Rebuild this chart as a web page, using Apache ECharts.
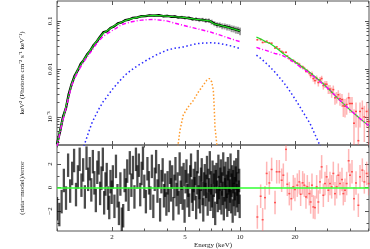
<!DOCTYPE html>
<html><head><meta charset="utf-8">
<script src="https://cdn.jsdelivr.net/npm/echarts@6/dist/echarts.min.js"></script>
<style>html,body{margin:0;padding:0;background:#fff}#c{width:370px;height:249px}</style>
</head><body><div id="c"></div><script>
// ---------- axis ticks ----------
const X_RANGE = [1, 50.7];
const Y_TOP_RANGE = [2.6e-4, 0.26];
const Y_RES_RANGE = [-3.7, 3.62];
const xMajorTicks = [2, 5, 10, 20];
const xMinorTicks = [1, 3, 4, 6, 7, 8, 9, 30, 40, 50];
const yTopMajorTicks = [0.001, 0.01, 0.1];
const yTopMinorTicks = [3e-4,4e-4,5e-4,6e-4,7e-4,8e-4,9e-4,0.002,0.003,0.004,0.005,0.006,0.007,0.008,0.009,0.02,0.03,0.04,0.05,0.06,0.07,0.08,0.09,0.2];
const yResMajorTicks = [-2, 0, 2];
const yResMinorTicks = [-3, -1, 1, 3];
const zeroLevel = [0];

// ---------- model curves (segment 1: 1-10 keV) ----------
const modelE1 = [1.0,1.03,1.06,1.1,1.15,1.2,1.25,1.31,1.4,1.48,1.55,1.61,1.7,1.79,1.85,1.92,1.99,2.1,2.26,2.4,2.56,2.75,2.9,3.1,3.43,3.97,4.4,4.9,5.3,5.8,6.3,6.86,7.0,7.15,7.5,8.11,9.0,10.0];
const totalModel1 = [2.6e-4,4.5e-4,7.4e-4,1.25e-3,2.5e-3,4.8e-3,7.0e-3,0.0102,0.0155,0.021,0.027,0.0338,0.044,0.056,0.060,0.066,0.073,0.083,0.095,0.104,0.112,0.119,0.124,0.128,0.130,0.126,0.122,0.118,0.113,0.108,0.104,0.100,0.096,0.088,0.084,0.078,0.070,0.062];
const contModel1 = [2.4e-4,4.1e-4,6.8e-4,1.15e-3,2.3e-3,4.4e-3,6.4e-3,9.2e-3,0.014,0.019,0.024,0.030,0.039,0.048,0.052,0.057,0.062,0.070,0.084,0.090,0.096,0.101,0.104,0.106,0.107,0.100,0.090,0.081,0.075,0.069,0.064,0.059,0.058,0.056,0.053,0.048,0.042,0.037];
const bbModel1 = [2e-6,4e-6,7e-6,1.4e-5,2.8e-5,5e-5,8e-5,1.3e-4,2.4e-4,4.5e-4,7.4e-4,1.0e-3,1.5e-3,2.1e-3,2.45e-3,3.0e-3,3.6e-3,4.6e-3,6.3e-3,7.9e-3,9.6e-3,0.0116,0.0131,0.0153,0.0190,0.0245,0.027,0.0287,0.031,0.0335,0.0345,0.035,0.035,0.0348,0.0343,0.0327,0.030,0.0266];
// ---------- model curves (segment 2: 12-51 keV) ----------
const modelE2 = [12.3,13,14,14.6,15.5,16.5,17.2,18.5,20.4,22,24.1,26,28.5,31,33.8,37,39.9,43,45.3,48,51];
const totalModel2 = [0.046,0.042,0.036,0.0338,0.029,0.024,0.021,0.0172,0.0133,0.0108,8.4e-3,6.6e-3,4.9e-3,3.6e-3,2.55e-3,1.85e-3,1.4e-3,1.1e-3,9.2e-4,7.7e-4,6.4e-4];
const contModel2 = [0.028,0.026,0.024,0.0226,0.021,0.0199,0.0188,0.0163,0.0125,0.0102,8.1e-3,6.4e-3,4.8e-3,3.6e-3,2.55e-3,1.85e-3,1.4e-3,1.1e-3,9.2e-4,7.7e-4,6.4e-4];
const bbModel2 = [0.0193,0.0165,0.0128,0.011,8.6e-3,6.5e-3,5.4e-3,3.7e-3,2.1e-3,1.3e-3,7.4e-4,3.9e-4,1.8e-4,6e-5,2e-5,5e-6,2e-6,1e-6,1e-6,1e-6,1e-6];
// ---------- iron line ----------
const lineE = [4.5,4.6,4.7,4.9,5.2,5.56,5.92,6.3,6.58,6.8,7.0,7.15,7.23,7.3,7.46,7.6];
const lineModel = [1.2e-4,2.8e-4,5.3e-4,1.1e-3,1.6e-3,2.2e-3,3.3e-3,4.6e-3,5.8e-3,6.3e-3,5.4e-3,3.6e-3,1.6e-3,6.2e-4,2.8e-4,1e-4];

// ---------- black data (top) ----------
const blackE = [1.00,1.04,1.08,1.12,1.16,1.20,1.25,1.30,1.35,1.40,1.46,1.52,1.58,1.65,1.72,1.80,1.88,1.96,2.05,2.15,2.25,2.36,2.48,2.60,2.75,2.90,3.05,3.2,3.4,3.6,3.8,4.0,4.2,4.4,4.6,4.8,5.0,5.25,5.5,5.75,6.0,6.25,6.5,6.75,7.0,7.25,7.5,7.75,8.0,8.25,8.5,8.75,9.0,9.25,9.5,9.75,10.0];
const blackF = [2.7e-4,5.1e-4,1.02e-3,1.55e-3,3.0e-3,4.7e-3,7.2e-3,9.4e-3,0.0128,0.0152,0.0199,0.0240,0.0306,0.0372,0.0468,0.0585,0.0610,0.0712,0.0770,0.0885,0.0930,0.1035,0.1070,0.1155,0.1180,0.1255,0.1260,0.1305,0.1290,0.1310,0.1255,0.1270,0.1225,0.1235,0.1185,0.1195,0.1160,0.1150,0.1095,0.1090,0.1050,0.1055,0.1020,0.1015,0.0950,0.0880,0.0830,0.0820,0.0780,0.0775,0.0745,0.0735,0.0695,0.0685,0.0655,0.0645,0.0615];
const blackRelErr = [0.12,0.10,0.08,0.07,0.06,0.05,0.05,0.04,0.04,0.04,0.04,0.04,0.04,0.04,0.04,0.04,0.04,0.04,0.04,0.04,0.04,0.04,0.04,0.04,0.04,0.04,0.04,0.04,0.05,0.05,0.05,0.06,0.06,0.06,0.07,0.07,0.08,0.08,0.09,0.09,0.10,0.10,0.11,0.11,0.12,0.12,0.13,0.13,0.14,0.14,0.15,0.15,0.16,0.16,0.17,0.17,0.18];

// ---------- red data (top + residuals) ----------
const redE = [12.44,12.97,13.30,13.70,13.99,14.47,14.89,15.54,15.87,16.40,16.89,17.25,17.84,18.14,18.60,19.08,19.56,19.97,20.57,21.10,21.45,22.00,22.46,22.94,23.33,23.92,24.33,24.74,25.16,25.69,26.24,26.80,27.36,27.94,28.54,29.14,29.76,30.39,31.03,31.69,32.36,33.04,33.74,34.46,35.19,36.09,36.70,37.48,38.28,39.25,39.92,40.93,41.98,43.05,44.34,45.28,46.62,47.81,49.23,50.48];
const redF = [0.0405,0.0408,0.0356,0.0367,0.0377,0.0348,0.0343,0.0272,0.0288,0.0261,0.0231,0.0220,0.0222,0.0185,0.0165,0.0150,0.0150,0.0140,0.0132,0.0125,0.0111,0.0111,0.0103,0.0090,0.0092,0.0082,0.0073,0.0079,0.0063,0.0057,0.0064,0.0052,0.0059,0.0063,0.0045,0.0048,0.0048,0.0038,0.0038,0.0033,0.0037,0.0025,0.0026,0.0029,0.0024,0.0023,0.0017,0.00167,0.00181,0.0025,0.0019,0.0019,0.00074,0.0013,0.00032,0.0013,0.0015,0.0010,0.0013,0.0008];
const redErr = [0.0018,0.0017,0.0016,0.0015,0.0014,0.0014,0.0013,0.0012,0.0013,0.0012,0.0011,0.0011,0.0010,0.0009,0.0010,0.0010,0.0009,0.0009,0.0008,0.0009,0.0009,0.0008,0.0008,0.0008,0.0008,0.0008,0.0009,0.0009,0.0009,0.0009,0.0009,0.0009,0.0009,0.0009,0.0008,0.0008,0.0008,0.0008,0.0008,0.0008,0.0008,0.0007,0.0007,0.0007,0.0007,0.0007,0.0007,0.0007,0.0007,0.0007,0.0007,0.0007,0.0007,0.0007,0.0007,0.0007,0.0007,0.0007,0.0007,0.0007];
const redResid = [-2.51,-0.74,-2.74,-0.86,1.20,0.39,1.54,-1.28,1.34,1.34,0.62,1.05,3.25,0.28,-0.52,-0.95,0.06,-0.17,0.20,0.48,-0.57,0.40,0.20,-0.80,0.06,-0.52,-1.23,0.20,-1.65,-1.71,0.06,-1.23,0.48,1.76,-0.66,0.34,0.91,-0.23,0.34,0.06,1.20,-0.52,0.06,1.05,0.34,0.68,-0.52,-0.23,0.34,2.28,1.05,1.34,-0.95,0.39,-1.51,0.91,1.48,0.48,1.20,0.34];

// ---------- black residuals ----------
const blackResE = [1.00,1.03,1.06,1.09,1.12,1.15,1.18,1.21,1.24,1.27,1.30,1.33,1.36,1.39,1.42,1.45,1.48,1.51,1.54,1.57,1.60,1.63,1.66,1.69,1.72,1.75,1.78,1.81,1.84,1.87,1.90,1.93,1.96,1.99,
2.02,2.06,2.10,2.14,2.18,2.22,2.26,2.30,2.34,2.38,2.42,2.46,2.50,2.55,2.60,2.65,2.70,2.75,2.80,2.85,2.90,2.95,3.00,3.06,3.12,3.18,3.24,3.30,3.36,3.42,3.48,3.54,3.60,3.66,3.72,3.78,3.84,3.90,3.96,
4.02,4.08,4.14,4.20,4.26,4.32,4.38,4.44,4.50,4.56,4.62,4.68,4.74,4.80,4.86,4.92,4.98,5.04,5.10,5.16,5.22,5.28,5.34,5.40,5.46,5.52,5.58,5.64,5.70,5.76,5.82,5.88,5.94,6.00,6.06,6.12,6.18,6.24,6.30,6.36,6.42,6.48,6.54,6.60,6.66,6.72,6.78,6.84,6.90,6.96,7.02,7.08,7.14,7.20,7.26,7.32,7.38,7.44,7.50,7.56,7.62,7.68,7.74,7.80,7.86,7.92,7.98,8.04,8.10,8.16,8.22,8.28,8.34,8.40,8.46,8.52,8.58,8.64,8.70,8.76,8.82,8.88,8.94,9.00,9.06,9.12,9.18,9.24,9.30,9.36,9.42,9.48,9.54,9.60,9.66,9.72,9.78,9.84,9.90,9.96];
const blackResid = [-1.8,-2.3,-1.2,0.6,-0.9,1.9,-0.3,1.2,2.3,-0.6,0.9,2.4,0.2,1.5,-0.8,2.5,0.7,1.6,-0.2,2.2,0.4,-1.1,1.3,2.1,-0.5,0.8,2.4,-1.3,0.3,1.1,-0.9,-1.7,0.5,-0.4,
0.9,-1.6,1.8,-0.7,-2.2,0.3,-2.7,-2.4,0.6,-0.2,1.4,-1.0,2.1,0.2,1.7,-0.8,2.4,0.9,1.9,-0.6,1.2,2.5,0.1,-1.2,1.6,0.4,-0.9,1.8,-1.6,0.7,2.2,-0.3,1.0,-1.9,0.5,1.5,-0.7,0.2,-1.4,
0.4,-1.1,1.3,-0.2,0.9,-1.8,0.1,1.6,-0.6,0.3,-1.3,2.0,-0.4,0.8,-0.9,1.1,-2.0,0.5,1.4,-0.7,
0.2,-1.5,0.9,1.9,-0.3,-1.0,0.6,-0.1,1.2,-1.7,0.4,2.2,-0.8,0.0,-1.2,0.7,1.5,-0.5,-1.9,0.3,
1.0,-0.6,0.1,1.7,-1.4,0.6,-0.2,2.1,-1.0,0.4,-0.7,1.3,-1.6,0.2,0.9,-2.2,0.5,1.1,-0.4,-1.1,
1.8,0.0,-0.9,0.7,1.4,-1.3,0.3,-0.5,2.0,-1.8,0.8,-0.2,1.2,-0.8,0.1,-1.5,1.6,0.4,-1.0,0.6,
-0.3,1.9,-1.2,0.2,0.9,-2.0,0.5,-0.6,1.3,-0.1,-1.4,0.8,1.5,-0.7,0.3,-1.1,2.2,-0.4,0.6,-1.6];

// ---------- styling ----------
const FRAME = '#555';
const FONT = "'Liberation Serif','Times New Roman',serif";
const TXT = '#222';
const GREEN = '#22dd22';
const ZERO_GREEN = '#33ff33';

const pairs = (xs, ys) => xs.map((x, i) => [x, ys[i]]);

function errBar(color, w) {
  return function (params, api) {
    const a = api.coord([api.value(0), api.value(1)]);
    const b = api.coord([api.value(0), api.value(2)]);
    return { type: 'line', silent: true,
      shape: { x1: a[0], y1: a[1], x2: b[0], y2: b[1] },
      style: { stroke: color, lineWidth: w } };
  };
}

function mkX(grid, pos, ticks, len, label, extra) {
  return Object.assign({
    type: 'log', logBase: 10, gridIndex: grid, position: pos,
    min: X_RANGE[0], max: X_RANGE[1],
    axisLine: { show: false, onZero: false }, splitLine: { show: false }, minorTick: { show: false },
    axisTick: { show: true, inside: true, length: len, customValues: ticks, lineStyle: { color: FRAME, width: 1 } },
    axisLabel: label ? Object.assign({ show: true, customValues: ticks, fontSize: 7, fontFamily: FONT, color: TXT, margin: 3 }, label) : { show: false }
  }, extra || {});
}
function mkY(grid, pos, type, range, ticks, len, label, extra) {
  return Object.assign({
    type: type, gridIndex: grid, position: pos, min: range[0], max: range[1],
    axisLine: { show: false, onZero: false }, splitLine: { show: false }, minorTick: { show: false },
    axisTick: { show: true, inside: true, length: len, customValues: ticks, lineStyle: { color: FRAME, width: 1 } },
    axisLabel: label ? Object.assign({ show: true, customValues: ticks, fontSize: 7, fontFamily: FONT, color: TXT, margin: 3, rotate: 90 }, label) : { show: false }
  }, extra || {});
}

const xAxes = [
  mkX(0, 'bottom', xMajorTicks, 4, null),
  mkX(0, 'bottom', xMinorTicks, 2.5, null),
  mkX(0, 'top', xMajorTicks, 4, null),
  mkX(0, 'top', xMinorTicks, 2.5, null),
  mkX(1, 'bottom', xMajorTicks, 4, { formatter: v => String(v) },
      { name: 'Energy (keV)', nameLocation: 'middle', nameGap: 11,
        nameTextStyle: { fontSize: 7, fontFamily: FONT, color: TXT } }),
  mkX(1, 'bottom', xMinorTicks, 2.5, null),
  mkX(1, 'top', xMajorTicks, 4, null),
  mkX(1, 'top', xMinorTicks, 2.5, null)
];
const yAxes = [
  mkY(0, 'left', 'log', Y_TOP_RANGE, yTopMajorTicks, 4,
      { formatter: v => (v >= 0.01 ? String(v) : '10⁻³') },
      { logBase: 10, name: 'keV² (Photons cm⁻² s⁻¹ keV⁻¹)', nameLocation: 'middle', nameGap: 31, nameRotate: 90,
        nameTextStyle: { fontSize: 7, fontFamily: FONT, color: TXT } }),
  mkY(0, 'left', 'log', Y_TOP_RANGE, yTopMinorTicks, 2.5, null, { logBase: 10 }),
  mkY(0, 'right', 'log', Y_TOP_RANGE, yTopMajorTicks, 4, null, { logBase: 10 }),
  mkY(0, 'right', 'log', Y_TOP_RANGE, yTopMinorTicks, 2.5, null, { logBase: 10 }),
  mkY(1, 'left', 'value', Y_RES_RANGE, yResMajorTicks, 4,
      { formatter: v => (v < 0 ? '−' + Math.abs(v) : String(v)) },
      { name: '(data−model)/error', nameLocation: 'middle', nameGap: 31, nameRotate: 90,
        nameTextStyle: { fontSize: 7, fontFamily: FONT, color: TXT } }),
  mkY(1, 'left', 'value', Y_RES_RANGE, yResMinorTicks, 2.5, null),
  mkY(1, 'right', 'value', Y_RES_RANGE, yResMajorTicks, 4, null),
  mkY(1, 'right', 'value', Y_RES_RANGE, yResMinorTicks, 2.5, null),
  // zero reference line of the residual panel, drawn above the data
  { type: 'value', gridIndex: 1, position: 'right', min: Y_RES_RANGE[0], max: Y_RES_RANGE[1], z: 30, zlevel: 1,
    axisLine: { show: false, onZero: false }, axisLabel: { show: false },
    axisTick: { show: true, length: 0, customValues: zeroLevel },
    splitLine: { show: true, lineStyle: { color: ZERO_GREEN, width: 1.5, type: 'solid', opacity: 1 } } }
];

function modelLine(xs, ys, color, width, type, z) {
  return { type: 'line', xAxisIndex: 0, yAxisIndex: 0, data: pairs(xs, ys), symbol: 'none', silent: true,
    clip: true, z: z, lineStyle: { color: color, width: width, type: type } };
}

const series = [
  // top: black data
  { type: 'custom', xAxisIndex: 0, yAxisIndex: 0, clip: true, z: 2,
    renderItem: errBar('rgba(0,0,0,0.38)', 2),
    data: blackE.map((e, i) => [e, blackF[i] * (1 - blackRelErr[i]), blackF[i] * (1 + blackRelErr[i])]) },
  { type: 'line', xAxisIndex: 0, yAxisIndex: 0, data: pairs(blackE, blackF), symbol: 'none', clip: true, z: 3,
    lineStyle: { color: '#000', width: 2.4 } },
  // top: red data
  { type: 'custom', xAxisIndex: 0, yAxisIndex: 0, clip: true, z: 2,
    renderItem: errBar('rgba(255,90,90,0.45)', 1.5),
    data: redE.map((e, i) => [e, Math.max(redF[i] - redErr[i], 1e-6), redF[i] + redErr[i]]) },
  { type: 'scatter', xAxisIndex: 0, yAxisIndex: 0, data: pairs(redE, redF), symbol: 'rect', symbolSize: [2, 1.5],
    clip: true, z: 3, itemStyle: { color: '#ff2a2a' } },
  // models
  modelLine(modelE1, bbModel1, '#2a2aff', 1.5, [1.5, 2.5], 4),
  modelLine(modelE2, bbModel2, '#2a2aff', 1.5, [1.5, 2.5], 4),
  modelLine(lineE, lineModel, '#ff9a2a', 1.5, [1.5, 2], 4),
  modelLine(modelE1, totalModel1, GREEN, 1.2, 'solid', 5),
  modelLine(modelE2, totalModel2, GREEN, 1.2, 'solid', 5),
  modelLine(modelE1, contModel1, '#ff00ff', 1.4, [4, 2, 1, 2], 6),
  modelLine(modelE2, contModel2, '#ff00ff', 1.4, [4, 2, 1, 2], 6),
  // residuals
  { type: 'custom', xAxisIndex: 4, yAxisIndex: 4, clip: true, z: 2,
    renderItem: errBar('rgba(0,0,0,0.7)', 2.3),
    data: blackResE.map((e, i) => [e, blackResid[i] - 1, blackResid[i] + 1]) },
  { type: 'custom', xAxisIndex: 4, yAxisIndex: 4, clip: true, z: 2,
    renderItem: errBar('rgba(255,110,110,0.5)', 1.5),
    data: redE.map((e, i) => [e, redResid[i] - 1, redResid[i] + 1]) },
  { type: 'scatter', xAxisIndex: 4, yAxisIndex: 4, data: pairs(redE, redResid), symbol: 'rect', symbolSize: [2, 1.5],
    clip: true, z: 5, itemStyle: { color: '#ff3a3a' } }
];

const chart = echarts.init(document.getElementById('c'), null, { renderer: 'canvas' });
chart.setOption({
  animation: false,
  backgroundColor: '#fff',
  grid: [
    { left: 57, top: 1, width: 312, height: 144, show: true, borderColor: FRAME, borderWidth: 1, containLabel: false, outerBoundsMode: 'none' },
    { left: 57, top: 145, width: 312, height: 86, show: true, borderColor: FRAME, borderWidth: 1, containLabel: false, outerBoundsMode: 'none' }
  ],
  xAxis: xAxes,
  yAxis: yAxes,
  series: series
});
</script></body></html>
